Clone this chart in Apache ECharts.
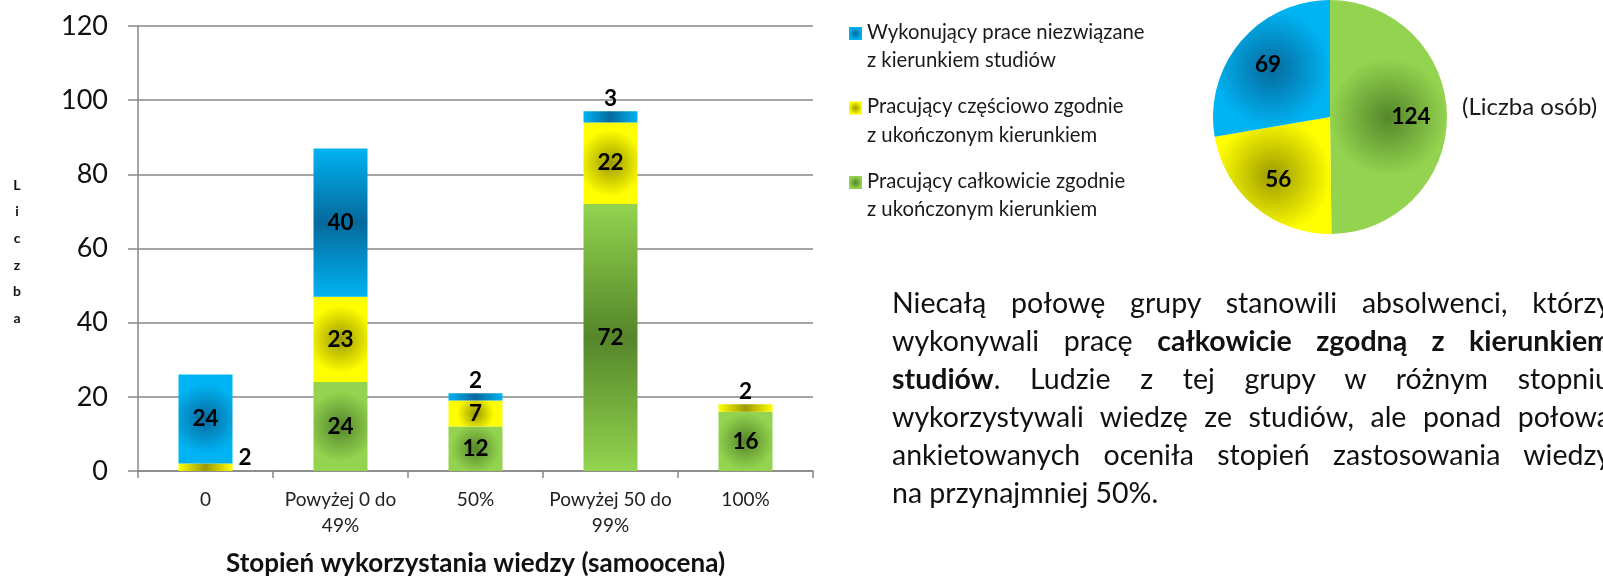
<!DOCTYPE html>
<html>
<head>
<meta charset="utf-8">
<script src="https://cdn.jsdelivr.net/npm/echarts@6/dist/echarts.min.js"></script>
<style>
  html, body { margin: 0; padding: 0; width: 1603px; height: 576px; overflow: hidden; background: #fff; }
  #chart { position: absolute; left: 0; top: 0; width: 1603px; height: 576px; }
  #note {
    position: absolute; left: 892px; top: 283px; width: 719px;
    font-family: Lato, "Open Sans", sans-serif; font-size: 28.5px; line-height: 38px; color: #111;
  }
  #note .ln { text-align: justify; text-align-last: justify; white-space: nowrap; }
  #note .last { text-align: left; text-align-last: left; }
</style>
</head>
<body>
<div id="chart"></div>
<div id="note">
  <div class="ln">Niecałą połowę grupy stanowili absolwenci, którzy</div>
  <div class="ln">wykonywali pracę <b>całkowicie zgodną z kierunkiem</b></div>
  <div class="ln"><b>studiów</b>. Ludzie z tej grupy w różnym stopniu</div>
  <div class="ln">wykorzystywali wiedzę ze studiów, ale ponad połowa</div>
  <div class="ln">ankietowanych oceniła stopień zastosowania wiedzy</div>
  <div class="ln last">na przynajmniej 50%.</div>
</div>
<script>
// Categories: self-assessed degree of using knowledge from studies
const categories = ['0', 'Powyżej 0 do\n49%', '50%', 'Powyżej 50 do\n99%', '100%'];

// Series names (legend)
const nameUnrelated = 'Wykonujący prace niezwiązane\nz kierunkiem studiów';
const namePartial = 'Pracujący częściowo zgodnie\nz ukończonym kierunkiem';
const nameFull = 'Pracujący całkowicie zgodnie\nz ukończonym kierunkiem';

// Stacked bar values per category
const unrelatedValues = [24, 40, 2, 3, 0];
const partialValues = [2, 23, 7, 22, 2];
const fullValues = [0, 24, 12, 72, 16];

// Pie totals (number of people)
const pieUnrelated = 69;
const piePartial = 56;
const pieFull = 124;

// Value axis
const yMin = 0;
const yMax = 120;
const yStep = 20;

const FONT = 'Lato, "Open Sans", sans-serif';
const GRID = { left: 138, right: 790, top: 26, bottom: 105 };
const CHART_H = 576;
const BAR_W = 54;
const PX_PER_UNIT = (CHART_H - GRID.top - GRID.bottom) / (yMax - yMin);

const SHADES = {
  blue:   { edge: '#00b3f2', mid: '#06699c' },
  yellow: { edge: '#ffff00', mid: '#9c9a00' },
  green:  { edge: '#93d34f', mid: '#55862a' }
};

function radial(shade, cy, r) {
  return new echarts.graphic.RadialGradient(0.5, cy, r, [
    { offset: 0, color: shade.mid },
    { offset: 1, color: shade.edge }
  ]);
}
function linear(shade, vertical) {
  return new echarts.graphic.LinearGradient(0, 0, vertical ? 0 : 1, vertical ? 1 : 0, [
    { offset: 0, color: shade.edge },
    { offset: 0.5, color: shade.mid },
    { offset: 1, color: shade.edge }
  ]);
}
// centre-dark shading that follows the proportions of each segment
function segmentFill(shade, v) {
  const h = Math.max(v * PX_PER_UNIT, 1);
  const w = BAR_W;
  if (h > 2.2 * w) return linear(shade, true);
  if (w > 2.2 * h) return linear(shade, false);
  return radial(shade, 0.5, 0.5 * Math.sqrt(Math.max(h, w) / Math.min(h, w)));
}

// bottom to top
const layers = [
  { name: nameFull, values: fullValues, shade: SHADES.green },
  { name: namePartial, values: partialValues, shade: SHADES.yellow },
  { name: nameUnrelated, values: unrelatedValues, shade: SHADES.blue }
];

function barItems(layer, li) {
  return layer.values.map((v, i) => {
    const item = { value: v, itemStyle: { color: segmentFill(layer.shade, v) } };
    if (v > 0 && v <= 3) {
      const covered = layers.slice(li + 1).some(l => l.values[i] > 0);
      item.label = covered
        ? { position: 'right', distance: 6, offset: [0, -10] }
        : { position: 'top', distance: 1 };
    }
    return item;
  });
}

const barSeries = layers.map((layer, li) => ({
  name: layer.name,
  type: 'bar',
  stack: 'total',
  barWidth: BAR_W,
  itemStyle: { color: radial(layer.shade, 1 / 6, 0.5) },
  label: {
    show: true,
    position: 'inside',
    fontFamily: FONT, fontWeight: 'bold', fontSize: 22.5, color: '#000',
    formatter: p => (p.value ? String(p.value) : '')
  },
  emphasis: { disabled: true },
  data: barItems(layer, li)
}));

const pieData = [
  { name: nameFull, value: pieFull, shade: SHADES.green },
  { name: namePartial, value: piePartial, shade: SHADES.yellow },
  { name: nameUnrelated, value: pieUnrelated, shade: SHADES.blue }
];

const chart = echarts.init(document.getElementById('chart'));
chart.setOption({
  animation: false,
  backgroundColor: '#fff',
  grid: Object.assign({ containLabel: false, outerBoundsMode: 'none' }, GRID),
  legend: {
    data: [nameUnrelated, namePartial, nameFull],
    orient: 'vertical',
    left: 849, top: 18, padding: 0,
    itemGap: 17.5, itemWidth: 13, itemHeight: 39,
    icon: 'path://M0,0L10,0L10,10L0,10Z M0,30',
    selectedMode: false,
    textStyle: { fontFamily: FONT, fontSize: 20.3, lineHeight: 28.5, color: '#1a1a1a' }
  },
  xAxis: {
    type: 'category',
    data: categories,
    name: 'Stopień wykorzystania wiedzy (samoocena)',
    nameLocation: 'middle',
    nameGap: 78,
    nameTextStyle: { fontFamily: FONT, fontSize: 26, fontWeight: 'bold', color: '#111', lineHeight: 30 },
    axisLine: { lineStyle: { color: '#878787', width: 1.5 } },
    axisTick: { show: true, length: 7, lineStyle: { color: '#878787', width: 1.5 } },
    axisLabel: { margin: 16, fontFamily: FONT, fontSize: 19, lineHeight: 26, color: '#222', interval: 0 }
  },
  yAxis: {
    type: 'value',
    min: yMin, max: yMax, interval: yStep,
    axisLine: { show: true, lineStyle: { color: '#878787', width: 1.5 } },
    axisTick: { show: true, length: 10, lineStyle: { color: '#878787', width: 1.5 } },
    splitLine: { lineStyle: { color: '#878787', width: 1.5 } },
    axisLabel: { margin: 30, fontFamily: FONT, fontSize: 27, color: '#111' }
  },
  series: [
    ...barSeries,
    {
      name: 'Liczba osób',
      type: 'pie',
      center: [1330, 117],
      radius: 117,
      startAngle: 90,
      clockwise: true,
      avoidLabelOverlap: false,
      silent: true,
      label: { show: false },
      labelLine: { show: false },
      data: pieData.map(d => ({ name: d.name, value: d.value, itemStyle: { color: radial(d.shade, 0.5, 0.5) } }))
    },
    {
      // wider transparent ring that only carries the slice labels further out
      name: 'Liczba osób (etykiety)',
      type: 'pie',
      center: [1330, 117],
      radius: 156,
      startAngle: 90,
      clockwise: true,
      avoidLabelOverlap: false,
      silent: true,
      z: 5,
      itemStyle: { color: 'rgba(0,0,0,0)' },
      label: {
        show: true, position: 'inside',
        fontFamily: FONT, fontWeight: 'bold', fontSize: 22.5, color: '#000',
        formatter: p => String(p.value)
      },
      labelLine: { show: false },
      data: pieData.map((d, i) => ({
        name: d.name, value: d.value,
        label: i === 0 ? { padding: [52, 0, 0, 0] } : {}
      }))
    }
  ],
  graphic: [
    {
      // value-axis title, one letter per line
      type: 'text', x: 17, y: 172,
      style: {
        text: 'L\ni\nc\nz\nb\na', font: 'bold 14px ' + FONT, lineHeight: 26.6,
        fill: '#111', align: 'center', verticalAlign: 'top'
      }
    },
    {
      type: 'text', left: 1462, top: 95,
      style: { text: '(Liczba osób)', font: '24px ' + FONT, fill: '#1a1a1a' }
    }
  ]
});
</script>
</body>
</html>
